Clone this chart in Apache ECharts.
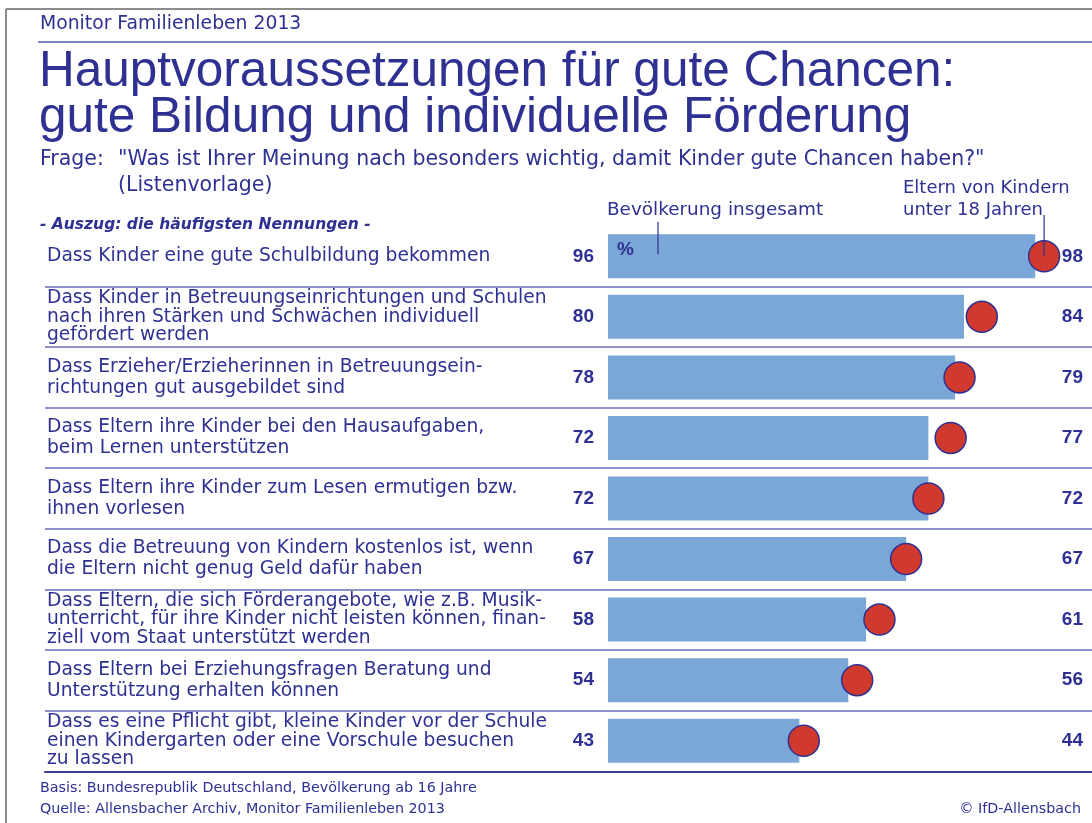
<!DOCTYPE html>
<html>
<head>
<meta charset="utf-8">
<script src="https://cdn.jsdelivr.net/npm/echarts@6/dist/echarts.min.js"></script>
<style>
html,body{margin:0;padding:0;background:#fff;}
#chart{width:1092px;height:823px;}
</style>
</head>
<body>
<div id="chart"></div>
<script>
// ---- data ----
var categories = [
  'Dass Kinder eine gute Schulbildung bekommen',
  'Dass Kinder in Betreuungseinrichtungen und Schulen\nnach ihren Stärken und Schwächen individuell\ngefördert werden',
  'Dass Erzieher/Erzieherinnen in Betreuungsein-\nrichtungen gut ausgebildet sind',
  'Dass Eltern ihre Kinder bei den Hausaufgaben,\nbeim Lernen unterstützen',
  'Dass Eltern ihre Kinder zum Lesen ermutigen bzw.\nihnen vorlesen',
  'Dass die Betreuung von Kindern kostenlos ist, wenn\ndie Eltern nicht genug Geld dafür haben',
  'Dass Eltern, die sich Förderangebote, wie z.B. Musik-\nunterricht, für ihre Kinder nicht leisten können, finan-\nziell vom Staat unterstützt werden',
  'Dass Eltern bei Erziehungsfragen Beratung und\nUnterstützung erhalten können',
  'Dass es eine Pflicht gibt, kleine Kinder vor der Schule\neinen Kindergarten oder eine Vorschule besuchen\nzu lassen'
];
var bevoelkerung = [96, 80, 78, 72, 72, 67, 58, 54, 43];
var eltern = [98, 84, 79, 77, 72, 67, 61, 56, 44];
var seriesNames = ['Bevölkerung insgesamt', 'Eltern von Kindern\nunter 18 Jahren'];

var BLUE = '#2e3192';
var FONT = 'DejaVu Sans';
var TFONT = 'Liberation Sans';

var chart = echarts.init(document.getElementById('chart'), null, {renderer: 'canvas'});

var catData = categories.map(function (c) {
  var lines = c.split('\n').length;
  return {value: c, textStyle: {lineHeight: lines > 2 ? 18.5 : 21}};
});

var GRID_TOP = 226, GRID_H = 545;

function ttl(text, pos, style) {
  var t = {text: text, padding: 0, top: pos.top,
    textStyle: Object.assign({fontFamily: FONT, fontWeight: 'normal', color: BLUE}, style)};
  if (pos.left !== undefined) t.left = pos.left;
  if (pos.right !== undefined) t.right = pos.right;
  return t;
}

var option = {
  backgroundColor: '#fff',
  animation: false,
  textStyle: {fontFamily: FONT},
  title: [
    ttl('Monitor Familienleben 2013', {left: 40, top: 13}, {fontSize: 18.8, lineHeight: 22}),
    ttl('Hauptvoraussetzungen für gute Chancen:\ngute Bildung und individuelle Förderung', {left: 39, top: 49},
      {fontFamily: TFONT, fontSize: 49.5, lineHeight: 46}),
    ttl('Frage:', {left: 40, top: 147}, {fontSize: 20.5, lineHeight: 26}),
    ttl('"Was ist Ihrer Meinung nach besonders wichtig, damit Kinder gute Chancen haben?"\n(Listenvorlage)', {left: 118, top: 147},
      {fontSize: 20.5, lineHeight: 26}),
    ttl('- Auszug: die häufigsten Nennungen -', {left: 40, top: 215}, {fontSize: 15.5, fontWeight: 'bold', fontStyle: 'italic', lineHeight: 20}),
    ttl(seriesNames[0], {left: 607, top: 199}, {fontSize: 18.4, lineHeight: 22}),
    ttl(seriesNames[1], {left: 903, top: 177}, {fontSize: 18, lineHeight: 22}),
    ttl('%', {left: 617, top: 240}, {fontFamily: TFONT, fontSize: 19, fontWeight: 'bold', lineHeight: 20}),
    ttl('Basis: Bundesrepublik Deutschland, Bevölkerung ab 16 Jahre', {left: 40, top: 780}, {fontSize: 14.3, lineHeight: 16}),
    ttl('Quelle: Allensbacher Archiv, Monitor Familienleben 2013', {left: 40, top: 801}, {fontSize: 14.3, lineHeight: 16}),
    ttl('© IfD-Allensbach', {right: 11, top: 801}, {fontSize: 14.3, lineHeight: 16})
  ],
  grid: [
    {left: 608, right: 39, top: GRID_TOP, height: GRID_H},
    {left: 45, right: 0, top: GRID_TOP, height: GRID_H}
  ],
  xAxis: [
    {gridIndex: 0, type: 'value', min: 0, max: 100, show: false},
    {gridIndex: 1, type: 'value', min: 0, max: 100, position: 'bottom', offset: 1,
      axisLine: {show: true, lineStyle: {color: '#3b3f98', width: 2}},
      axisTick: {show: false}, axisLabel: {show: false}, splitLine: {show: false}}
  ],
  yAxis: [
    {gridIndex: 0, type: 'category', inverse: true, data: eltern.map(String), position: 'right',
      axisLine: {show: false}, axisTick: {show: false}, splitLine: {show: false},
      axisLabel: {show: true, align: 'right', margin: 30, color: BLUE, fontFamily: TFONT, fontSize: 19, fontWeight: 'bold'}},
    {gridIndex: 1, type: 'category', inverse: true, data: catData,
      axisLine: {show: false}, axisTick: {show: false},
      splitLine: {show: true, showMinLine: false, showMaxLine: false, lineStyle: {color: '#6a6db8', width: 1.5}},
      axisLabel: {show: true, inside: true, margin: 2, align: 'left', color: BLUE, fontFamily: FONT, fontSize: 18.7}}
  ],
  series: [
    {name: seriesNames[0], type: 'bar', xAxisIndex: 0, yAxisIndex: 0, data: bevoelkerung, barWidth: 44,
      itemStyle: {color: '#7ba7d8'}, z: 2,
      label: {show: true, position: 'left', distance: 14, color: BLUE, fontFamily: TFONT, fontSize: 19, fontWeight: 'bold'}},
    {name: seriesNames[1], type: 'scatter', xAxisIndex: 0, yAxisIndex: 0, data: eltern, symbol: 'circle', symbolSize: 31,
      itemStyle: {color: '#d0392e', borderColor: BLUE, borderWidth: 1.5, opacity: 1}, z: 4}
  ]
};
chart.setOption(option);

// frame + leader lines from series-name labels to the first row's marks
var pBar = chart.convertToPixel({gridIndex: 0}, [0, 0]);
var pDot = chart.convertToPixel({gridIndex: 0}, [eltern[0], 0]);
chart.setOption({
  graphic: [
    {type: 'line', shape: {x1: 6, y1: 9, x2: 1092, y2: 9}, style: {stroke: '#8c8c8c', lineWidth: 2}, silent: true},
    {type: 'line', shape: {x1: 6, y1: 9, x2: 6, y2: 823}, style: {stroke: '#8c8c8c', lineWidth: 2}, silent: true},
    {type: 'line', shape: {x1: 38, y1: 42, x2: 1092, y2: 42}, style: {stroke: '#5a5ea8', lineWidth: 1.5}, silent: true},
    {type: 'line', z: 10, shape: {x1: 658, y1: 222, x2: 658, y2: pBar[1] - 2}, style: {stroke: BLUE, lineWidth: 1.2}, silent: true},
    {type: 'line', z: 10, shape: {x1: pDot[0], y1: 215, x2: pDot[0], y2: pDot[1]}, style: {stroke: BLUE, lineWidth: 1.2}, silent: true}
  ]
});
</script>
</body>
</html>
